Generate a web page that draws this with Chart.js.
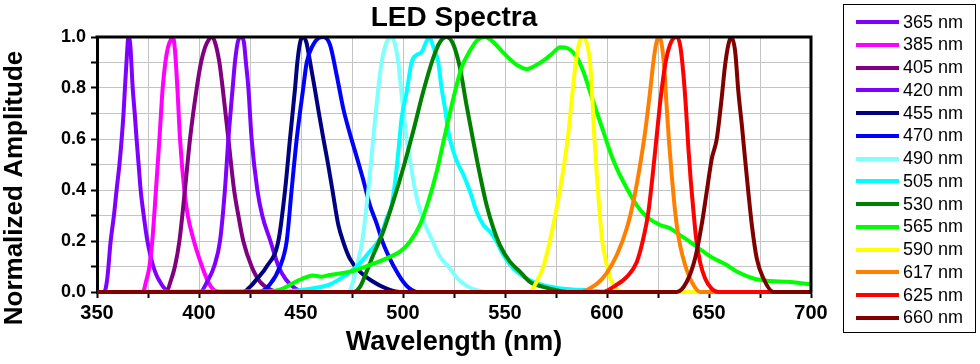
<!DOCTYPE html>
<html>
<head>
<meta charset="utf-8">
<script src="https://cdn.jsdelivr.net/npm/chart.js@4.4.0/dist/chart.umd.min.js"></script>
<style>
  html, body { margin: 0; padding: 0; background: #fff; }
  #area { position: relative; width: 980px; height: 364px; }
  #legenda {
    position: absolute; left: 843px; top: 4px; width: 133px; height: 329px;
    border: 1px solid #000; box-sizing: border-box;
    font-family: Arial, "Liberation Sans", sans-serif; font-size: 18px; color: #000;
  }
  .item { position: absolute; left: 12px; height: 22px; display: flex; align-items: center; white-space: nowrap; }
  .linha { display: inline-block; width: 43px; height: 4px; margin-right: 4px; }
</style>
</head>
<body>
<div id="area">
  <canvas id="graf_led" width="980" height="364"></canvas>
  <div id="legenda"></div>
</div>
<script>
// nomes e cores dos LEDs
const rotulos = ["365 nm", "385 nm", "405 nm", "420 nm", "455 nm", "470 nm", "490 nm",
  "505 nm", "530 nm", "565 nm", "590 nm", "617 nm", "625 nm", "660 nm"];
const cores = ["#8000ff", "#ff00ff", "#800080", "#8000ff", "#000080", "#0000ff", "#80ffff",
  "#00ffff", "#008000", "#00ff00", "#ffff00", "#ff8000", "#ff0000", "#800000"];

// eixos
const ticksX = [350, 400, 450, 500, 550, 600, 650, 700];
const ticksY = [0.0, 0.2, 0.4, 0.6, 0.8, 1.0];

// espectros (comprimento de onda em nm / amplitude normalizada)
const wl365 = [350, 353.5, 355, 356.7, 358.3, 359.6, 361, 362.1, 363, 363.7, 364.6, 365.4, 366.3, 367.5, 368.5, 369.4, 370.4, 371.4, 372.9, 374.7, 376, 377.6, 379.5, 380.9, 383, 386, 700];
const amp365 = [0, 0, 0.05, 0.2, 0.3, 0.4, 0.5, 0.6, 0.7, 0.8, 0.92, 1.0, 0.97, 0.8, 0.7, 0.6, 0.5, 0.4, 0.3, 0.2, 0.15, 0.1, 0.06, 0.04, 0.015, 0, 0];

const wl385 = [350, 372.5, 374, 375.7, 377.1, 378.9, 380.6, 382.2, 383.5, 384.8, 386.2, 387.2, 388.2, 389.4, 390.7, 392.8, 394.5, 397.5, 401.5, 404.5, 407, 410, 700];
const amp385 = [0, 0, 0.04, 0.1, 0.2, 0.4, 0.6, 0.8, 0.9, 0.96, 0.99, 1.0, 0.95, 0.8, 0.6, 0.4, 0.3, 0.2, 0.1, 0.04, 0.01, 0, 0];

const wl405 = [350, 384, 386, 388.2, 390.4, 393.1, 395.6, 398.9, 401, 403, 404.8, 406.2, 407.8, 410, 411.6, 414.4, 417.2, 419.3, 421.7, 425.8, 429.9, 434.8, 440, 700];
const amp405 = [0, 0, 0.04, 0.1, 0.2, 0.4, 0.6, 0.8, 0.9, 0.96, 0.99, 1.0, 0.98, 0.9, 0.8, 0.6, 0.4, 0.3, 0.2, 0.1, 0.04, 0.01, 0, 0];

const wl420 = [350, 400.5, 404, 407.4, 410.3, 412.7, 414.4, 416.5, 417.6, 419, 420.6, 422, 423, 424.2, 425.8, 428.6, 431, 435, 439, 442.5, 447, 452, 700];
const amp420 = [0, 0, 0.04, 0.1, 0.2, 0.4, 0.6, 0.8, 0.9, 0.98, 1.0, 0.98, 0.9, 0.8, 0.6, 0.4, 0.3, 0.2, 0.1, 0.05, 0.015, 0, 0];

const wl455 = [350, 421.5, 425, 428.3, 433.2, 438.9, 442.2, 444.6, 447.1, 448.2, 449.6, 451, 452.6, 454.5, 456.7, 458.8, 461, 463.3, 465.4, 468.3, 470.7, 474, 478.9, 485.4, 492, 498.5, 700];
const amp455 = [0, 0, 0.02, 0.05, 0.1, 0.2, 0.4, 0.6, 0.8, 0.9, 0.98, 1.0, 0.98, 0.9, 0.8, 0.7, 0.6, 0.5, 0.4, 0.263, 0.197, 0.13, 0.08, 0.04, 0.013, 0, 0];

const wl470 = [350, 429.5, 434.8, 439.7, 443, 445.4, 447.9, 451.1, 452.8, 456, 458.5, 461, 464.2, 467.5, 470.7, 474, 477.3, 480.5, 483.8, 487, 490.3, 493.6, 496.9, 500.1, 503, 507, 700];
const amp470 = [0, 0, 0.03, 0.1, 0.2, 0.4, 0.6, 0.8, 0.9, 0.97, 0.995, 1.0, 0.97, 0.85, 0.72, 0.62, 0.53, 0.44, 0.34, 0.27, 0.19, 0.13, 0.08, 0.04, 0.015, 0, 0];

const wl490 = [350, 473, 475.5, 477.3, 480, 483, 485.4, 487.9, 489.5, 491.5, 493, 494.4, 495.8, 497.7, 499, 501.8, 503.8, 505.9, 509.1, 514.5, 518, 522.2, 527.1, 531, 535, 541, 700];
const amp490 = [0, 0, 0.04, 0.1, 0.2, 0.4, 0.6, 0.8, 0.9, 0.97, 0.995, 1.0, 0.98, 0.9, 0.8, 0.6, 0.5, 0.4, 0.3, 0.2, 0.14, 0.1, 0.05, 0.025, 0.01, 0, 0];

const wl505 = [350, 440, 452, 464.2, 470.7, 477.3, 483.8, 488.7, 492, 494.4, 496.1, 497.7, 499.3, 501.8, 504.2, 506.7, 509.1, 510.8, 512.9, 514.9,
  517.3, 518.9, 520.6, 522.2, 524.7, 527.1, 529.6, 532.8, 536.1, 539.4, 542.6, 545.9, 549.2, 554.1, 560.6, 568.8, 578.6, 590, 605, 700];
const amp505 = [0, 0, 0.01, 0.03, 0.06, 0.1, 0.16, 0.21, 0.29, 0.34, 0.43, 0.55, 0.68, 0.785, 0.9, 0.93, 0.94, 0.97, 1.0, 0.96,
  0.9, 0.8, 0.72, 0.63, 0.55, 0.5, 0.46, 0.395, 0.315, 0.263, 0.237, 0.197, 0.145, 0.092, 0.053, 0.027, 0.013, 0.007, 0, 0];

const wl530 = [350, 475.6, 478.9, 482.2, 485.4, 490.3, 495.2, 500.1, 505, 509.9, 514.9, 518.1, 521.4, 524.7, 527.9, 531.2, 534.5, 537.7, 541, 544.3, 547.5, 552.4, 557.3, 562.2, 568.8, 575.3, 582, 700];
const amp530 = [0, 0, 0.02, 0.08, 0.145, 0.237, 0.355, 0.485, 0.63, 0.785, 0.92, 0.98, 1.0, 0.97, 0.88, 0.73, 0.59, 0.46, 0.34, 0.25, 0.184, 0.119, 0.08, 0.04, 0.02, 0.007, 0, 0];

const wl565 = [350, 435, 440, 445, 450, 455.7, 460, 464.2, 474, 483.8, 492, 498.5, 503.4, 508.3, 512.4, 516.5, 520.6, 524.7, 528.7, 532.8,
  536.1, 540.2, 544.3, 548.3, 552.4, 556.5, 560.6, 564.7, 568.8, 572.9, 577, 581, 585.2, 588.4, 591.7, 594.9, 598.2, 601.5, 604.8, 609.7,
  614.6, 619.5, 626, 630.9, 635.8, 640.7, 647.3, 652.2, 658.7, 663.6, 671.8, 679.9, 688.1, 700];
const amp565 = [0, 0.003, 0.01, 0.03, 0.05, 0.065, 0.06, 0.067, 0.08, 0.106, 0.132, 0.158, 0.197, 0.263, 0.355, 0.472, 0.617, 0.76, 0.88, 0.946,
  0.985, 1.0, 0.98, 0.946, 0.913, 0.887, 0.874, 0.887, 0.907, 0.933, 0.96, 0.955, 0.92, 0.865, 0.785, 0.707, 0.63, 0.55, 0.485, 0.407,
  0.34, 0.295, 0.263, 0.25, 0.223, 0.197, 0.158, 0.132, 0.106, 0.08, 0.053, 0.043, 0.04, 0.03];

const wl590 = [350, 562, 565.5, 568.8, 572, 575.3, 578.6, 581, 583.3, 585.2, 587, 588.7, 590.3, 591.7, 592.6, 593.7, 595, 596.3, 597.7, 599.9, 602.3, 605.6, 608, 700];
const amp590 = [0, 0, 0.04, 0.1, 0.2, 0.33, 0.48, 0.62, 0.8, 0.93, 0.99, 1.0, 0.97, 0.9, 0.79, 0.62, 0.46, 0.32, 0.2, 0.106, 0.04, 0.007, 0, 0];

const wl617 = [350, 586.8, 591.7, 595.5, 599.9, 604.8, 609.7, 612.9, 616.2, 618.7, 621.1, 622.7, 624, 625.2, 626.6, 628.1, 629.3, 630.4, 631.7, 632.9, 634.2, 635.8, 638.3, 641.5, 645.6, 700];
const amp617 = [0, 0, 0.015, 0.035, 0.075, 0.145, 0.25, 0.353, 0.497, 0.628, 0.785, 0.9, 0.97, 1.0, 0.98, 0.876, 0.72, 0.59, 0.46, 0.354, 0.263, 0.184, 0.106, 0.04, 0, 0];

const wl625 = [350, 598.2, 603.1, 609.7, 614.6, 617.8, 620.3, 622.4, 624.4, 626.3, 628.5, 630.9, 633.9, 635.8, 637.5, 638.8, 639.9, 641.1, 642.4, 643.7, 645.6, 648.1, 651.3, 654.6, 700];
const amp625 = [0, 0, 0.02, 0.059, 0.118, 0.21, 0.315, 0.46, 0.615, 0.76, 0.89, 0.97, 1.0, 0.97, 0.85, 0.71, 0.563, 0.432, 0.315, 0.21, 0.118, 0.053, 0.013, 0, 0];

const wl660 = [350, 634.2, 639.1, 643.2, 646.4, 648.9, 651.3, 653.8, 656.2, 657.9, 659.5, 660.8, 662.8, 664.4, 666.1, 667.7, 669.3, 671, 673.4, 676.7, 681.6, 700];
const amp660 = [0, 0, 0.04, 0.132, 0.263, 0.394, 0.52, 0.6, 0.76, 0.89, 0.97, 1.0, 0.945, 0.785, 0.655, 0.52, 0.39, 0.263, 0.132, 0.053, 0, 0];

const comprimentos = [wl365, wl385, wl405, wl420, wl455, wl470, wl490, wl505, wl530, wl565, wl590, wl617, wl625, wl660];
const amplitudes = [amp365, amp385, amp405, amp420, amp455, amp470, amp490, amp505, amp530, amp565, amp590, amp617, amp625, amp660];

const fonte = 'Arial, "Liberation Sans", sans-serif';
Chart.defaults.font.family = fonte;
Chart.defaults.color = "#000";

// junta x e y em pontos
function montarPontos(xs, ys) {
  const pontos = [];
  for (let i = 0; i < Math.min(xs.length, ys.length); i++) {
    pontos.push({ x: xs[i], y: ys[i] });
  }
  return pontos;
}

const datasets = [];
for (let i = 0; i < rotulos.length; i++) {
  datasets.push({
    label: rotulos[i],
    data: montarPontos(comprimentos[i], amplitudes[i]),
    borderColor: cores[i],
    backgroundColor: cores[i],
    borderWidth: 4,
    pointRadius: 0,
    fill: false,
    cubicInterpolationMode: "monotone",
    clip: { left: 0, top: 0, right: 0, bottom: 5 },
    order: rotulos.length - 1 - i, // o ultimo fica por cima
  });
}

// moldura de cima e da direita
const moldura = {
  id: "moldura",
  afterDatasetsDraw(chart) {
    const { left, top, right, bottom } = chart.chartArea;
    const ctx = chart.ctx;
    ctx.save();
    ctx.strokeStyle = "#000";
    ctx.lineWidth = 3;
    ctx.beginPath();
    ctx.moveTo(left - 1.5, top);
    ctx.lineTo(right, top);
    ctx.lineTo(right, bottom + 1.5);
    ctx.stroke();
    ctx.restore();
  },
};

// titulo do eixo y (fica centrado na altura da figura, nao do grafico)
const tituloY = {
  id: "tituloY",
  afterDraw(chart) {
    const ctx = chart.ctx;
    ctx.save();
    ctx.translate(15, 188);
    ctx.rotate(-Math.PI / 2);
    ctx.font = "bold 26px " + fonte;
    ctx.fillStyle = "#000";
    ctx.textAlign = "center";
    ctx.textBaseline = "middle";
    ctx.fillText("Normalized Amplitude", 0, 0);
    ctx.restore();
  },
};

const config = {
  type: "line",
  data: { datasets: datasets },
  options: {
    responsive: false,
    animation: false,
    events: [],
    layout: { padding: { left: 0, right: 169, top: 0, bottom: 0 } },
    plugins: {
      legend: { display: false },
      tooltip: { enabled: false },
      title: {
        display: true,
        text: "LED Spectra",
        fullSize: false,
        color: "#000",
        font: { size: 28, weight: "bold" },
        padding: { top: 1, bottom: 2.4 },
      },
    },
    scales: {
      x: {
        type: "linear",
        min: 350,
        max: 700,
        ticks: {
          stepSize: 25,
          autoSkip: false,
          maxRotation: 0,
          padding: 3,
          color: "#000",
          font: { size: 20, weight: "bold" },
          callback: (v) => (ticksX.includes(v) ? v : ""),
        },
        grid: { color: "#c4c4c4", lineWidth: 1, tickColor: "#000", tickLength: 6, tickWidth: 2 },
        border: { color: "#000", width: 3 },
        title: {
          display: true,
          text: "Wavelength (nm)",
          color: "#000",
          font: { size: 27, weight: "bold" },
          padding: { top: 0, bottom: 5 },
        },
        afterFit: (escala) => { escala.height = 72; },
      },
      y: {
        min: 0,
        max: 1,
        ticks: {
          stepSize: 0.1,
          autoSkip: false,
          padding: 5,
          color: "#000",
          font: { size: 18, weight: "bold" },
          callback: (v) => {
            const r = Math.round(v * 10) / 10;
            return ticksY.some((t) => Math.abs(t - r) < 1e-6) ? r.toFixed(1) : "";
          },
        },
        grid: { color: "#c4c4c4", lineWidth: 1, tickColor: "#000", tickLength: 6, tickWidth: 2 },
        border: { color: "#000", width: 3 },
        afterFit: (escala) => { escala.width = 97; },
      },
    },
  },
  plugins: [moldura, tituloY],
};

const grafico = new Chart(document.getElementById("graf_led"), config);

// legenda montada a partir dos rotulos e cores
const divLegenda = document.getElementById("legenda");
for (let i = 0; i < rotulos.length; i++) {
  divLegenda.innerHTML += `
    <div class="item" style="top:${6 + i * 22.75}px">
      <span class="linha" style="background:${cores[i]}"></span>${rotulos[i]}
    </div>`;
}
</script>
</body>
</html>
